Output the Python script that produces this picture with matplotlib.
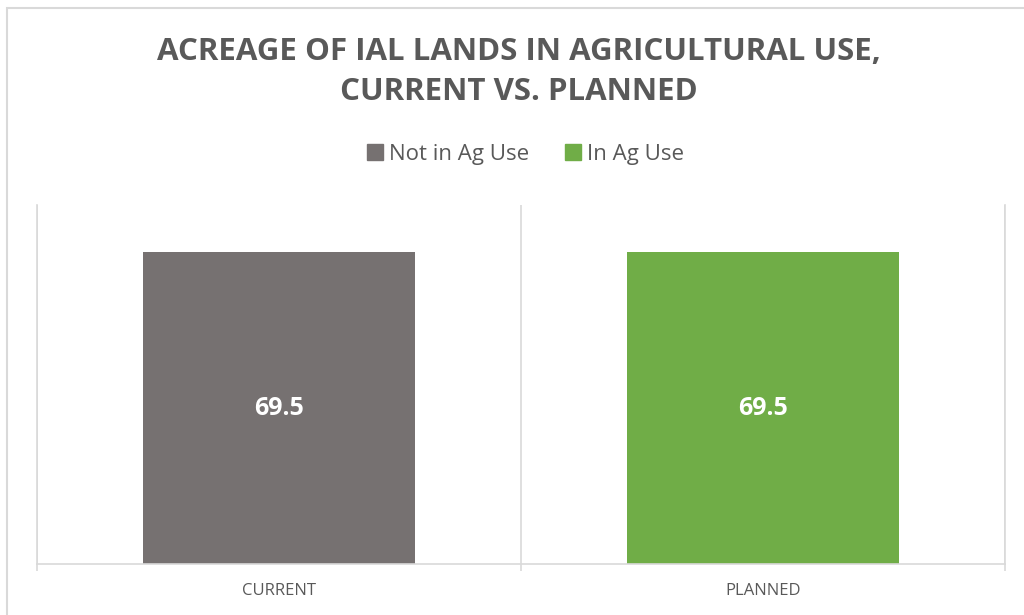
import matplotlib
matplotlib.use("Agg")
import matplotlib.pyplot as plt
from matplotlib.patches import Rectangle
from matplotlib.lines import Line2D

# chart data
categories = ["CURRENT", "PLANNED"]
not_in_ag = [69.5, 0]
in_ag = [0, 69.5]
series_names = ["Not in Ag Use", "In Ag Use"]

GRAY = "#767171"
GREEN = "#70AD47"
TEXT = "#595959"
LINE = "#D9D9D9"

plt.rcParams["font.family"] = ["Open Sans", "DejaVu Sans"]

fig = plt.figure(figsize=(10.24, 6.15), dpi=100)
ax = fig.add_axes([37 / 1024, 1 - 564 / 615, (1005 - 37) / 1024, (564 - 205) / 615])

x = list(range(len(categories)))
bars1 = ax.bar(x, not_in_ag, width=0.56, color=GRAY, label=series_names[0])
bars2 = ax.bar(x, in_ag, width=0.56, bottom=not_in_ag, color=GREEN, label=series_names[1])

# data labels, only where the segment has a value
for bars, vals, base in [(bars1, not_in_ag, [0, 0]), (bars2, in_ag, not_in_ag)]:
    for b, v, b0 in zip(bars, vals, base):
        if v:
            ax.text(b.get_x() + b.get_width() / 2, b0 + v / 2, f"{v:.1f}",
                    ha="center", va="center", color="white",
                    fontsize=18, fontweight="bold")

ax.set_xlim(-0.5, 1.5)
ax.set_ylim(0, 80)
ax.set_yticks([])
ax.set_xticks(x)
ax.set_xticklabels(categories)
ax.set_xticks([-0.5, 0.5, 1.5], minor=True)
ax.tick_params(axis="x", which="major", length=0, pad=14, labelsize=12, labelcolor=TEXT)
ax.tick_params(axis="x", which="minor", length=5, width=1.2, color=LINE)
ax.grid(axis="x", which="minor", color=LINE, linewidth=1.2)
ax.spines["top"].set_visible(False)
for side in ["left", "right", "bottom"]:
    ax.spines[side].set_color(LINE)
    ax.spines[side].set_linewidth(1.2)
ax.set_axisbelow(True)

fig.text(519 / 1024, 1 - 72 / 615,
         "ACREAGE OF IAL LANDS IN AGRICULTURAL USE,\nCURRENT VS. PLANNED",
         ha="center", va="center", multialignment="center",
         fontsize=22.5, fontweight="bold", color=TEXT, linespacing=1.4)

handles = [Line2D([], [], marker="s", linestyle="none", markersize=12, color=GRAY),
           Line2D([], [], marker="s", linestyle="none", markersize=12, color=GREEN)]
fig.legend(handles, series_names, loc="center", bbox_to_anchor=(525 / 1024, 1 - 154 / 615),
           ncol=2, frameon=False, fontsize=16, labelcolor=TEXT,
           handlelength=0.8, handletextpad=0.2, columnspacing=1.6)

# chart border (cropped on the right and bottom)
fig.patches.append(Rectangle((7 / 1024, -0.1), 1.2, 1.1 - 8 / 615,
                             transform=fig.transFigure, fill=False,
                             edgecolor=LINE, linewidth=1.5))

fig.savefig("out.png", dpi=100)
